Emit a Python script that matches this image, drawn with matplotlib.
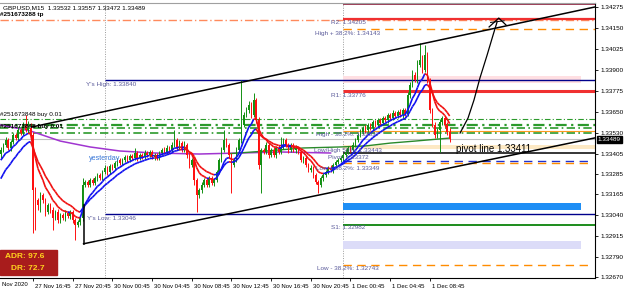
import numpy as np
import matplotlib
matplotlib.use("Agg")
import matplotlib.pyplot as plt
from matplotlib.collections import LineCollection
from matplotlib.patches import Rectangle
import matplotlib.transforms as mtransforms

plt.rcParams['font.family'] = ['Liberation Sans', 'DejaVu Sans']

# prices in 1e-5 units above 1.0  (33489 -> 1.33489), one value per 15 min bar
first_bar = 3
first_open = 33400
closes = [
    33426, 33456, 33485, 33438, 33473, 33515, 33497, 33545, 33527, 33575,
    33545, 33557, 33515, 33188, 33128, 33099, 33158, 33128, 33057, 33099,
    33069, 33021, 33057, 33009, 33039, 33021, 33051, 33033, 33057, 33009,
    32980, 32997, 33021, 33218, 33235, 33218, 33247, 33229, 33259, 33277,
    33259, 33295, 33319, 33295, 33331, 33319, 33348, 33366, 33348, 33366,
    33384, 33366, 33390, 33378, 33408, 33378, 33396, 33384, 33408, 33396,
    33414, 33384, 33396, 33378, 33408, 33426, 33414, 33438, 33426, 33456,
    33485, 33438, 33467, 33426, 33456, 33396, 33337, 33366, 33247, 33158,
    33188, 33218, 33247, 33218, 33259, 33229, 33247, 33295, 33366, 33426,
    33485, 33456, 33396, 33337, 33366, 33426, 33485, 33575, 33634, 33664,
    33694, 33634, 33723, 33604, 33337, 33426, 33414, 33456, 33396, 33426,
    33396, 33438, 33414, 33444, 33485, 33456, 33426, 33456, 33426, 33438,
    33414, 33366, 33378, 33337, 33307, 33319, 33277, 33235, 33218, 33259,
    33277, 33295, 33319, 33307, 33337, 33354, 33366, 33378, 33396, 33414,
    33438, 33426, 33456, 33485, 33515, 33533, 33557, 33545, 33575, 33557,
    33592, 33575, 33604, 33587, 33616, 33604, 33634, 33616, 33646, 33628,
    33652, 33634, 33664, 33640, 33753, 33813, 33872, 33842, 33932, 33961,
    33902, 33991, 33842, 33664, 33575, 33515, 33545, 33592, 33616, 33575,
    33532, 33489,
]
hi_wick = [
    15, 10, 20, 12, 10, 15, 12, 18, 10, 20,
    59, 40, 30, 20, 15, 12, 20, 10, 15, 12,
    10, 15, 12, 18, 10, 12, 15, 10, 12, 10,
    10, 12, 15, 41, 12, 15, 10, 12, 15, 10,
    12, 10, 15, 12, 10, 12, 15, 10, 12, 10,
    12, 10, 15, 10, 30, 10, 12, 10, 15, 12,
    10, 12, 10, 15, 12, 10, 15, 20, 12, 15,
    60, 12, 20, 15, 25, 12, 10, 15, 10, 12,
    10, 15, 12, 10, 15, 12, 10, 12, 15, 20,
    60, 15, 10, 12, 10, 15, 12, 267, 20, 15,
    25, 20, 43, 15, 20, 12, 10, 15, 12, 10,
    15, 12, 20, 60, 15, 12, 10, 12, 10, 15,
    12, 10, 15, 12, 10, 15, 12, 10, 12, 15,
    10, 12, 10, 15, 12, 10, 12, 12, 10, 15,
    12, 10, 15, 12, 10, 15, 12, 15, 12, 10,
    15, 12, 10, 15, 12, 10, 15, 12, 15, 10,
    12, 15, 10, 12, 20, 15, 30, 20, 30, 102,
    30, 60, 20, 15, 12, 15, 10, 20, 15, 12,
    15, 25,
]
lo_wick = [
    20, 12, 15, 10, 18, 12, 10, 15, 12, 10,
    10, 15, 20, 256, 178, 30, 40, 15, 25, 12,
    15, 71, 12, 20, 15, 10, 18, 12, 15, 20,
    90, 15, 20, 20, 12, 10, 15, 12, 10, 15,
    10, 12, 10, 15, 12, 10, 12, 15, 10, 12,
    10, 12, 10, 12, 10, 15, 10, 12, 10, 12,
    12, 10, 15, 10, 12, 10, 12, 10, 15, 10,
    10, 15, 10, 12, 10, 15, 20, 12, 30, 101,
    20, 15, 12, 15, 10, 12, 15, 10, 12, 10,
    12, 10, 15, 167, 15, 10, 12, 15, 10, 12,
    15, 20, 12, 15, 25, 167, 12, 12, 15, 10,
    12, 15, 10, 12, 10, 12, 15, 10, 12, 15,
    10, 12, 15, 10, 12, 10, 15, 12, 48, 10,
    15, 12, 10, 12, 15, 10, 12, 10, 15, 12,
    10, 12, 10, 15, 12, 10, 12, 15, 10, 12,
    12, 10, 15, 12, 10, 12, 15, 10, 12, 10,
    10, 12, 15, 10, 12, 15, 10, 12, 15, 12,
    15, 12, 20, 15, 12, 15, 20, 131, 15, 12,
    15, 17,
]

# long averages (bar, price)
purple_bars = [3, 15, 27, 39, 51, 65, 83, 99, 116, 136]
purple_vals = [33575, 33539, 33479, 33444, 33420, 33408, 33402, 33408, 33414, 33408]
green_bars = [95, 110, 125, 140, 150, 160, 170, 184]
green_vals = [33404, 33420, 33438, 33444, 33450, 33467, 33479, 33497]

tick_bars = [16, 32, 48, 64, 80, 96, 112, 128, 144, 160, 176]
tick_labels = ["27 Nov 16:45", "27 Nov 20:45", "30 Nov 00:45", "30 Nov 04:45",
               "30 Nov 08:45", "30 Nov 12:45", "30 Nov 16:45", "30 Nov 20:45",
               "1 Dec 00:45", "1 Dec 04:45", "1 Dec 08:45"]
price_ticks = [1.34275, 1.34150, 1.34025, 1.33900, 1.33775, 1.33650, 1.33530,
               1.33405, 1.33285, 1.33165, 1.33040, 1.32915, 1.32790, 1.32670]

day_starts = [45, 141]
x_left, x_right = 2.69, 242.6
y_low, y_high = 1.326643, 1.343006

# trend channel and hand drawn arrow (bar, price)
upper_chan = ([15.6, 242.6], [33563, 34277])
lower_chan = ([36.4, 242.6], [32868, 33498])
arrow_bars = [188.2, 191.4, 193.8, 196.2, 199.1, 201.5, 203.1]
arrow_vals = [33527, 33616, 33723, 33854, 33991, 34110, 34187]


def p(v):
    return 1 + np.asarray(v) / 1e5


def ema(vals, period, seed):
    out, e, a = [], seed, 2 / (period + 1)
    for v in vals:
        e = e + a * (v - e)
        out.append(e)
    return np.array(out)


bars = np.arange(first_bar, first_bar + len(closes))
c = p(closes)
o = np.r_[p(first_open), c[:-1]]
h = np.maximum(o, c) + np.array(hi_wick) / 1e5
l = np.minimum(o, c) - np.array(lo_wick) / 1e5

fig = plt.figure(figsize=(6.25, 2.91), dpi=100)
ax = fig.add_axes([0, 13 / 291, 595 / 625, 275 / 291])
ax.set_xlim(x_left, x_right)
ax.set_ylim(y_low, y_high)

lab_col = '#5a5a9a'
fs = 4.6

# day separators
for d in day_starts:
    ax.axvline(d, color='#9a9a9a', ls=(0, (1, 1.5)), lw=0.7, zorder=1)

# bands
def band(lo, hi, color, x0=141, x1=237):
    ax.fill_between([x0, x1], p(lo), p(hi), color=color, lw=0, zorder=1)

band(33825, 33867, '#ffdfe2')
band(33431, 33456, '#fde9c4', x1=242.6)
band(33071, 33112, '#1e8ef5')
band(32838, 32885, '#dcdcf8')

# order lines
ax.axhline(p(34200), color='#ff8a5c', ls=(0, (6, 2, 1, 2)), lw=1.0, zorder=2)
for lv, lw in [(33610, 0.8), (33572, 1.6), (33557, 1.2), (33530, 1.2)]:
    ax.axhline(p(lv), color='#2c9a2c', ls=(0, (5, 2, 1, 2)), lw=lw, zorder=2)
ax.axhline(p(33489), color='#c0c0c0', lw=0.8, zorder=2)

# yesterday high / low
ax.hlines(p([33840, 33046]), 45, x_right, color='#00008c', lw=1.0, zorder=2)

# pivot levels
ax.hlines(p(34295), 141, x_right, color='#8b1a3a', lw=1.2, zorder=2)
ax.hlines(p(34205), 141, x_right, color='#f03030', lw=1.6, zorder=2)
ax.hlines(p(34143), 141, x_right, color='#ff8c00', ls=(0, (6, 4)), lw=1.0, zorder=2)
ax.hlines(p(33776), 141, x_right, color='#f03030', lw=2.2, zorder=2)
ax.hlines(p(33537), 141, x_right, color='#ff9a20', lw=0.8, zorder=2)
ax.hlines(p(33411), 141, x_right, color='black', lw=1.1, zorder=2)
ax.hlines(p(33360), 141, 241.8, color='#2030d0', ls=(0, (6, 4)), lw=1.0, zorder=2)
ax.hlines(p(33349), 141, 241.8, color='#ff8c00', ls=(0, (6, 4)), lw=1.0, zorder=2)
ax.hlines(p(32982), 141, x_right, color='#1c8c1c', lw=1.4, zorder=2)
ax.hlines(p(32743), 141, 241.8, color='#ff8c00', ls=(0, (6, 4)), lw=1.0, zorder=2)

# long averages
ax.plot(purple_bars, p(purple_vals), color='#a035d0', lw=1.1, zorder=3)
ax.plot(green_bars, p(green_vals), color='#2a8a2a', lw=1.0, zorder=3)

# candles
up = c >= o
cols = np.where(up, '#139013', '#ff1010')
ax.vlines(bars, l, h, colors=cols, lw=0.7, zorder=4)
body = np.maximum(np.abs(c - o), 0.00003)
ax.bar(bars, body, bottom=np.minimum(o, c), width=0.6, color=cols, lw=0, zorder=4)

# fast / slow averages, blue while rising, red while falling
for period, seed in [(8, 33348), (14, 33229)]:
    m = p(ema(closes, period, seed))
    pts = np.column_stack([bars, m])
    segs = np.stack([pts[:-1], pts[1:]], axis=1)
    seg_cols = np.where(np.diff(m) >= 0, '#1010f0', '#f01010')
    ax.add_collection(LineCollection(segs, colors=seg_cols, lw=1.2, zorder=5))

# channel
ax.plot(upper_chan[0], p(upper_chan[1]), color='black', lw=1.1, zorder=6)
ax.plot(lower_chan[0], p(lower_chan[1]), color='black', lw=1.1, zorder=6)
ax.plot([36.4, 36.4], p([33099, 32868]), color='black', lw=1.1, zorder=6)

# hand drawn arrow
ax.plot(arrow_bars, p(arrow_vals), color='black', lw=0.9, zorder=6)
ax.plot([199.9, 203.8, 206.7], p([34158, 34211, 34170]), color='black', lw=0.9, zorder=6)
ax.plot([200.5, 206.0], p([34185, 34195]), color='black', lw=0.7, zorder=6)

# labels
def lbl(x, v, s, **kw):
    kw.setdefault('color', lab_col)
    kw.setdefault('fontsize', fs)
    ax.text(x, p(v), s, ha='center', va='center', zorder=7, **kw)

lbl(47.5, 33813, "Y's High: 1.33840")
lbl(47.5, 33021, "Y's Low: 1.33046")
lbl(45, 33378, "yesterday", color='#3a78d8', fontsize=5.2)
lbl(143, 34182, "R2: 1.34205")
lbl(143, 34122, "High + 38.2%: 1.34143")
lbl(143, 33753, "R1: 1.33776")
lbl(143, 33521, "High - 38.2%: 1.33537")
lbl(143, 33420, "Low/High 50%: 1.33443")
lbl(143, 33384, "Pivot: 1.33372")
lbl(143, 33313, "Low + 38.2%: 1.33349")
lbl(143, 32962, "S1: 1.32982")
lbl(143, 32719, "Low - 38.2%: 1.32743")
lbl(201.9, 33432, "pivot line 1.33411", color='black', fontsize=7)

ax.text(x_left, p(34232), "#251673288 tp", fontsize=fs, fontweight='bold', va='center', zorder=7)
ax.text(x_left, p(33640), "#251673848 buy 0.01", fontsize=fs, va='center', zorder=7)
ax.text(x_left, p(33568), "#251673848 buy 0.01", fontsize=fs, fontweight='bold',
        va='center', zorder=7)

ax.text(0.005, 0.982, "GBPUSD,M15  1.33532 1.33557 1.33472 1.33489", transform=ax.transAxes,
        fontsize=fs, va='center', zorder=7)

# ADR box
ax.add_patch(Rectangle((0, 0.011), 0.0958, 0.091, transform=ax.transAxes,
                       color='#a81c1c', zorder=8, clip_on=False))
ax.text(0.074, 0.08, "ADR: 97.6", transform=ax.transAxes, ha='right', va='center',
        color='#ffd21e', fontsize=6, fontweight='bold', zorder=9)
ax.text(0.074, 0.033, "DR: 72.7", transform=ax.transAxes, ha='right', va='center',
        color='#ffd21e', fontsize=6, fontweight='bold', zorder=9)

# axes
ax.yaxis.tick_right()
ax.set_yticks(price_ticks, [f"{t:.5f}" for t in price_ticks])
ax.set_xticks(tick_bars, tick_labels)
ax.tick_params(axis='both', labelsize=fs, length=2.5, width=0.6, pad=1.5, direction='out')
ax.tick_params(axis='x', labelsize=4.3)
shift = mtransforms.ScaledTranslation(2 / 100, 0, fig.dpi_scale_trans)
for t in ax.get_xticklabels():
    t.set_ha('left')
    t.set_transform(t.get_transform() + shift)
ax.text(0.003, -0.022, "Nov 2020", transform=ax.transAxes, fontsize=4.3, va='center')

ax.spines['left'].set_visible(False)
ax.spines['top'].set_color('#a0a0a0')
for s in ['right', 'bottom']:
    ax.spines[s].set_linewidth(0.8)

# current price marker
ax.annotate("1.33489", xy=(1.0, p(33489)), xycoords=('axes fraction', 'data'),
            xytext=(2, 0), textcoords='offset points', ha='left', va='center',
            fontsize=fs, color='white', annotation_clip=False,
            bbox=dict(boxstyle='square,pad=0.15', fc='black', ec='black'))

fig.savefig("out.png", dpi=100)
